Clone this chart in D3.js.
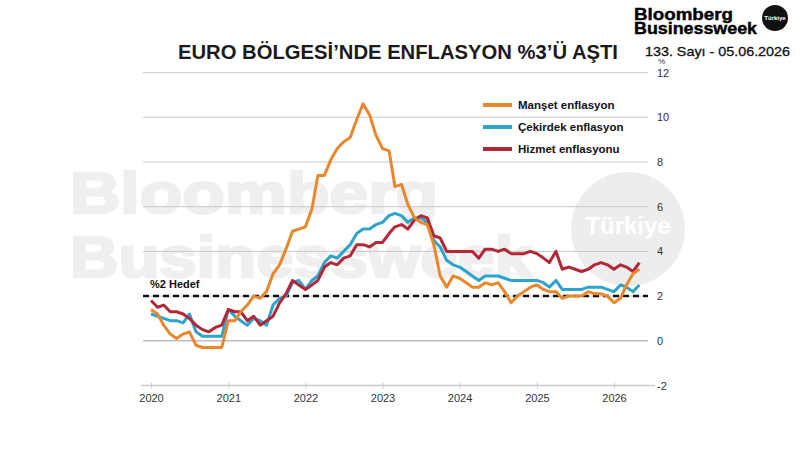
<!DOCTYPE html>
<html>
<head>
<meta charset="utf-8">
<script src="https://cdn.jsdelivr.net/npm/d3@7"></script>
<style>
	body { margin: 0; background: #fff; }
	svg { display: block; }
</style>
</head>
<body>
<div class="svg-container"></div>
<script>
const w = 800;
const h = 450;

// monthly, Jan 2020 - May 2026
const startMonth = new Date(2020, 0, 1);
const headline = [
	1.4, 1.2, 0.7, 0.3, 0.1, 0.3, 0.4, -0.2, -0.3, -0.3, -0.3, -0.3,
	0.9, 0.9, 1.3, 1.6, 2.0, 1.9, 2.2, 3.0, 3.4, 4.1, 4.9, 5.0,
	5.1, 5.9, 7.4, 7.4, 8.1, 8.6, 8.9, 9.1, 9.9, 10.6, 10.1, 9.2,
	8.6, 8.5, 6.9, 7.0, 6.1, 5.5, 5.3, 5.2, 4.3, 2.9, 2.4, 2.9,
	2.8, 2.6, 2.4, 2.4, 2.6, 2.5, 2.6, 2.2, 1.7, 2.0, 2.2, 2.4,
	2.5, 2.3, 2.2, 2.2, 1.9, 2.0, 2.0, 2.0, 2.2, 2.1, 2.1, 2.0,
	1.7, 1.9, 2.5, 3.0, 3.2
];
const core = [
	1.2, 1.1, 1.0, 0.9, 0.9, 0.8, 1.2, 0.4, 0.2, 0.2, 0.2, 0.2,
	1.4, 1.1, 0.9, 0.7, 1.0, 0.9, 0.7, 1.6, 1.9, 2.0, 2.6, 2.7,
	2.3, 2.7, 2.9, 3.5, 3.8, 3.7, 4.0, 4.3, 4.8, 5.0, 5.0, 5.2,
	5.3, 5.6, 5.7, 5.6, 5.3, 5.5, 5.5, 5.3, 4.5, 4.2, 3.6, 3.4,
	3.3, 3.1, 2.9, 2.7, 2.9, 2.9, 2.9, 2.8, 2.7, 2.7, 2.7, 2.7,
	2.7, 2.6, 2.4, 2.7, 2.3, 2.3, 2.3, 2.3, 2.4, 2.4, 2.4, 2.3,
	2.2, 2.5, 2.4, 2.2, 2.5
];
const services = [
	1.8, 1.5, 1.6, 1.3, 1.3, 1.2, 1.0, 0.7, 0.5, 0.4, 0.6, 0.7,
	1.4, 1.3, 1.3, 0.9, 1.1, 0.7, 0.9, 1.1, 1.7, 2.1, 2.7, 2.5,
	2.3, 2.5, 2.7, 3.3, 3.5, 3.4, 3.7, 3.8, 4.3, 4.3, 4.2, 4.4,
	4.4, 4.8, 5.1, 5.2, 5.0, 5.4, 5.6, 5.5, 4.7, 4.6, 4.0, 4.0,
	4.0, 4.0, 4.0, 3.7, 4.1, 4.1, 4.0, 4.1, 3.9, 3.9, 3.9, 4.0,
	3.9, 3.7, 3.5, 4.0, 3.2, 3.3, 3.2, 3.1, 3.2, 3.4, 3.5, 3.4,
	3.2, 3.4, 3.3, 3.1, 3.5
];

const seriesNames = ['Manşet enflasyon', 'Çekirdek enflasyon', 'Hizmet enflasyonu'];
const seriesColors = ['#e8872c', '#2ea3cc', '#b32738'];
const years = [2020, 2021, 2022, 2023, 2024, 2025, 2026];
const yTicks = [-2, 0, 2, 4, 6, 8, 10, 12];
const target = 2;

const font = '"Liberation Sans", Arial, sans-serif';

const svg = d3
	.select('.svg-container')
	.append('svg')
	.attr('width', w)
	.attr('height', h)
	.style('background-color', '#fff')
	.style('font-family', font);

const xScale = d3
	.scaleTime()
	.domain([new Date(2020, 0, 1), new Date(2026, 0, 1)])
	.range([151, 614]);

const yScale = d3.scaleLinear().domain([-2, 12]).range([385.5, 72.6]);

const monthDate = i => d3.timeMonth.offset(startMonth, i);

// watermark
const wm = svg.append('g').attr('id', 'watermark');
wm.append('text')
	.attr('x', 70)
	.attr('y', 213)
	.attr('textLength', 368)
	.attr('lengthAdjust', 'spacingAndGlyphs')
	.style('font-size', 57)
	.style('font-weight', 'bold')
	.style('fill', '#efefef')
	.style('stroke', '#efefef')
	.style('stroke-width', 2.5)
	.text('Bloomberg');
wm.append('text')
	.attr('x', 70)
	.attr('y', 277)
	.attr('textLength', 462)
	.attr('lengthAdjust', 'spacingAndGlyphs')
	.style('font-size', 57)
	.style('font-weight', 'bold')
	.style('fill', '#efefef')
	.style('stroke', '#efefef')
	.style('stroke-width', 2.5)
	.text('Businessweek');
wm.append('circle')
	.attr('cx', 628)
	.attr('cy', 229)
	.attr('r', 57)
	.attr('fill', '#ededed');
wm.append('text')
	.attr('x', 628)
	.attr('y', 234)
	.style('text-anchor', 'middle')
	.style('font-size', 24)
	.style('font-weight', 'bold')
	.style('fill', '#fff')
	.text('Türkiye');

// title + header
svg.append('text')
	.attr('x', 178)
	.attr('y', 59)
	.attr('id', 'title')
	.attr('textLength', 440)
	.attr('lengthAdjust', 'spacingAndGlyphs')
	.style('font-size', 20)
	.style('font-weight', 'bold')
	.style('fill', '#1a1a1a')
	.text('EURO BÖLGESİ’NDE ENFLASYON %3’Ü AŞTI');

svg.append('text')
	.attr('x', 634)
	.attr('y', 20)
	.attr('textLength', 99)
	.attr('lengthAdjust', 'spacingAndGlyphs')
	.style('font-size', 16)
	.style('font-weight', 'bold')
	.style('stroke', '#000')
	.style('stroke-width', 0.4)
	.text('Bloomberg');
svg.append('text')
	.attr('x', 634)
	.attr('y', 34)
	.attr('textLength', 123)
	.attr('lengthAdjust', 'spacingAndGlyphs')
	.style('font-size', 16)
	.style('font-weight', 'bold')
	.style('stroke', '#000')
	.style('stroke-width', 0.4)
	.text('Businessweek');
svg.append('circle').attr('cx', 775).attr('cy', 18).attr('r', 13).attr('fill', '#111');
svg.append('text')
	.attr('x', 775)
	.attr('y', 20)
	.style('text-anchor', 'middle')
	.style('font-size', 6)
	.style('font-weight', 'bold')
	.style('fill', '#fff')
	.text('Türkiye');
svg.append('text')
	.attr('x', 645)
	.attr('y', 56)
	.attr('textLength', 145)
	.attr('lengthAdjust', 'spacingAndGlyphs')
	.style('font-size', 13)
	.style('fill', '#111')
	.style('stroke', '#111')
	.style('stroke-width', 0.3)
	.text('133. Sayı - 05.06.2026');

// grid
svg.append('g')
	.selectAll('line')
	.data(yTicks.filter(d => d > -2))
	.enter()
	.append('line')
	.attr('x1', 143)
	.attr('x2', 648)
	.attr('y1', d => yScale(d))
	.attr('y2', d => yScale(d))
	.attr('stroke', d => (d === 0 ? '#bdbdbd' : '#c9c9c9'))
	.attr('stroke-width', d => (d === 0 ? 1.5 : 1));

// y labels
svg.append('g')
	.selectAll('text')
	.data(yTicks)
	.enter()
	.append('text')
	.attr('x', 657)
	.attr('y', d => yScale(d) + 4)
	.style('font-size', 11)
	.style('fill', '#333')
	.text(d => d);
svg.append('text')
	.attr('x', 658)
	.attr('y', 64)
	.style('font-size', 8)
	.style('fill', '#333')
	.text('%');

// x axis
const xAxis = d3
	.axisBottom(xScale)
	.tickValues(years.map(y => new Date(y, 0, 1)))
	.tickFormat(d3.timeFormat('%Y'))
	.tickSize(3)
	.tickSizeOuter(0)
	.tickPadding(6);

const xg = svg
	.append('g')
	.attr('id', 'x-axis')
	.attr('transform', `translate(0, ${yScale(-2)})`)
	.call(xAxis);
xg.select('.domain').attr('d', 'M141,0H655').attr('stroke', '#c9c9c9').attr('stroke-width', 1.5);
xg.selectAll('.tick line').attr('stroke', '#c9c9c9').attr('y1', -3);
xg.selectAll('.tick text')
	.style('font-family', font)
	.style('font-size', 11)
	.style('fill', '#333');

// target line
svg.append('line')
	.attr('x1', 143)
	.attr('x2', 648)
	.attr('y1', yScale(target))
	.attr('y2', yScale(target))
	.attr('stroke', '#111')
	.attr('stroke-width', 2.5)
	.attr('stroke-dasharray', '6,4');
svg.append('text')
	.attr('x', 150)
	.attr('y', yScale(target) - 8)
	.style('font-size', 11)
	.style('font-weight', 'bold')
	.style('fill', '#111')
	.text('%2 Hedef');

// lines
const line = d3
	.line()
	.x((d, i) => xScale(monthDate(i)))
	.y(d => yScale(d));

const drawOrder = [core, services, headline];
const drawColors = [seriesColors[1], seriesColors[2], seriesColors[0]];

svg.append('g')
	.selectAll('path')
	.data(drawOrder)
	.enter()
	.append('path')
	.attr('d', line)
	.attr('fill', 'none')
	.attr('stroke', (d, i) => drawColors[i])
	.attr('stroke-width', 3)
	.attr('stroke-linejoin', 'round');

// legend
const legend = svg
	.append('g')
	.attr('id', 'legend')
	.selectAll('g')
	.data(seriesNames)
	.enter()
	.append('g')
	.attr('transform', (d, i) => `translate(483, ${105 + i * 22})`);

legend.append('line')
	.attr('x1', 0)
	.attr('x2', 29)
	.attr('stroke', (d, i) => seriesColors[i])
	.attr('stroke-width', 4);

legend.append('text')
	.attr('x', 35)
	.attr('y', 4)
	.style('font-size', 11.5)
	.style('font-weight', 'bold')
	.style('fill', '#111')
	.text(d => d);
</script>
</body>
</html>
